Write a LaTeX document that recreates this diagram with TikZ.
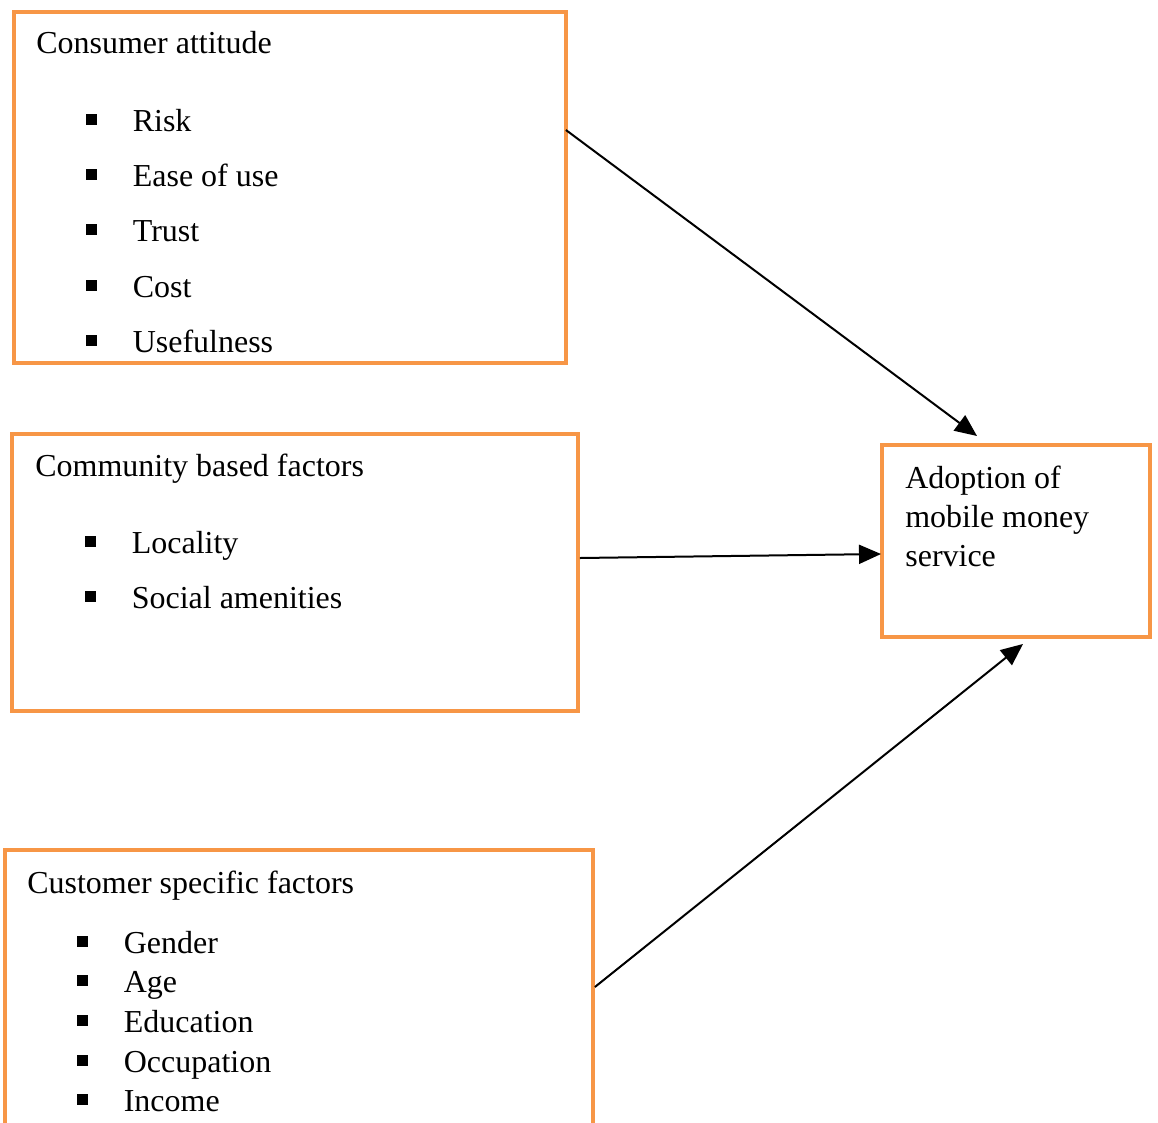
\documentclass[tikz,border=0pt]{standalone}
\usepackage{fontspec}
\setmainfont{Liberation Serif}
\usetikzlibrary{positioning,arrows.meta,calc}
\definecolor{boxorange}{HTML}{F79646}
\newcommand{\sqbul}{\rule[0.13cm]{0.21cm}{0.21cm}\hspace{0.72cm}}

\begin{document}
\begin{tikzpicture}[x=0.02cm, y=-0.02cm, >={Triangle[length=0.44cm, width=0.38cm]},
    factor/.style={draw=boxorange, line width=0.08cm, rectangle, anchor=north west, inner sep=0pt, outer sep=0pt},
    txt/.style={anchor=base west, inner sep=0pt, font=\fontsize{18.2}{22.1}\selectfont},
    link/.style={->, line width=0.04cm}]

        \useasboundingbox (0,0) rectangle (1158,1122);
        \clip (0,0) rectangle (1158,1122);

        % Factor boxes
        \node[factor, minimum width=11.04cm, minimum height=7.02cm] (att) at (14,12) {};
        \node[factor, minimum width=11.32cm, minimum height=5.54cm] (comm) at (12,434) {};
        \node[factor, minimum width=11.76cm, minimum height=6cm] (cust) at (5,850) {};
        \node[factor, minimum width=5.36cm, minimum height=3.84cm] (goal) at (882,445) {};

        % Consumer attitude
        \node[txt] (att-title) at (36,54) {Consumer attitude};
        \node[txt] (att-risk) at (86,131) {\sqbul Risk};
        \node[txt] (att-ease) at (86,186) {\sqbul Ease of use};
        \node[txt] (att-trust) at (86,241) {\sqbul Trust};
        \node[txt] (att-cost) at (86,297) {\sqbul Cost};
        \node[txt] (att-use) at (86,352) {\sqbul Usefulness};

        % Community based factors
        \node[txt] (comm-title) at (35,476) {Community based factors};
        \node[txt] (comm-loc) at (85,553) {\sqbul Locality};
        \node[txt] (comm-soc) at (85,608) {\sqbul Social amenities};

        % Customer specific factors
        \node[txt] (cust-title) at (27,893) {Customer specific factors};
        \node[txt] (cust-gen) at (77,953) {\sqbul Gender};
        \node[txt] (cust-age) at (77,992) {\sqbul Age};
        \node[txt] (cust-edu) at (77,1032) {\sqbul Education};
        \node[txt] (cust-occ) at (77,1072) {\sqbul Occupation};
        \node[txt] (cust-inc) at (77,1111) {\sqbul Income};

        % Outcome (base anchor sits on the last line)
        \node[txt, align=left] (goal-title) at (905,566) {Adoption of\\mobile money\\service};

        % Links into the outcome
        \draw[link] ($(att.north east)+(0,118)$) -- ($(goal.north west)+(95,-9)$);
        \draw[link] ($(comm.north east)+(2,124)$) -- ($(goal.north west)+(-1,109)$);
        \draw[link] ($(cust.north east)+(2,137)$) -- ($(goal.south west)+(141,7)$);
    \end{tikzpicture}
\end{document}
